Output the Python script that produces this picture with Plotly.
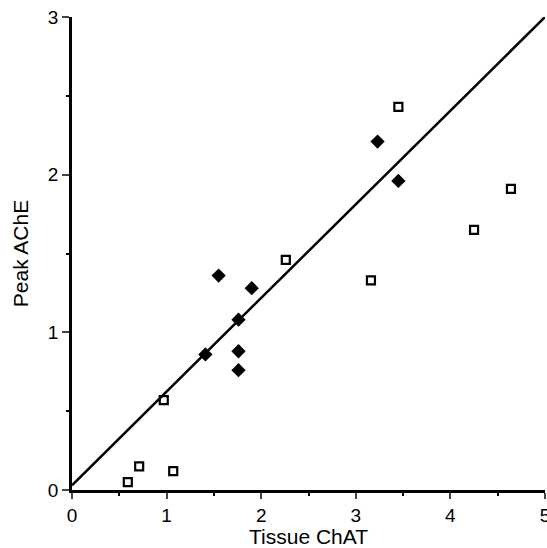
import plotly.graph_objects as go

# Data
open_x = [0.59, 0.71, 1.07, 0.97, 2.26, 3.16, 3.45, 4.25, 4.64]
open_y = [0.05, 0.15, 0.12, 0.57, 1.46, 1.33, 2.43, 1.65, 1.91]

filled_x = [1.55, 1.90, 1.76, 1.41, 1.76, 1.76, 3.23, 3.45]
filled_y = [1.36, 1.28, 1.08, 0.86, 0.88, 0.76, 2.21, 1.96]

line_x = [0, 5]
line_y = [0.03, 3.0]

x_ticks = [0, 1, 2, 3, 4, 5]
y_ticks = [0, 1, 2, 3]

fig = go.Figure()
fig.add_trace(go.Scatter(x=line_x, y=line_y, mode="lines",
                         line=dict(color="black", width=2.5), showlegend=False, cliponaxis=False))
fig.add_trace(go.Scatter(x=open_x, y=open_y, mode="markers",
                         marker=dict(symbol="square-open", size=8, color="black",
                                     line=dict(width=2.2, color="black")),
                         showlegend=False, cliponaxis=False))
fig.add_trace(go.Scatter(x=filled_x, y=filled_y, mode="markers",
                         marker=dict(symbol="diamond", size=11, color="black"),
                         showlegend=False, cliponaxis=False))

font = "Liberation Sans, Arial, sans-serif"
fig.update_layout(
    width=547, height=548,
    margin=dict(l=72, r=2, t=17, b=58),
    plot_bgcolor="white", paper_bgcolor="white",
    font=dict(family=font, size=19, color="black"),
    xaxis=dict(range=[0, 5], tickvals=x_ticks, ticks="outside", ticklen=6, tickwidth=2,
               ticklabeloverflow="allow", automargin=False,
               showline=True, linecolor="black", linewidth=2.5, showgrid=False, zeroline=False,
               minor=dict(dtick=0.5, ticks="outside", ticklen=3, tickwidth=2, tickcolor="black"),
               title=dict(text="Tissue ChAT", font=dict(size=21), standoff=6)),
    yaxis=dict(range=[0, 3], tickvals=y_ticks, ticks="outside", ticklen=7, tickwidth=2,
               ticklabeloverflow="allow", automargin=False,
               showline=True, linecolor="black", linewidth=2.5, showgrid=False, zeroline=False,
               minor=dict(dtick=0.5, ticks="outside", ticklen=3, tickwidth=2, tickcolor="black"),
               title=dict(text="Peak AChE", font=dict(size=21), standoff=14)),
)
fig.write_html("out.html")
